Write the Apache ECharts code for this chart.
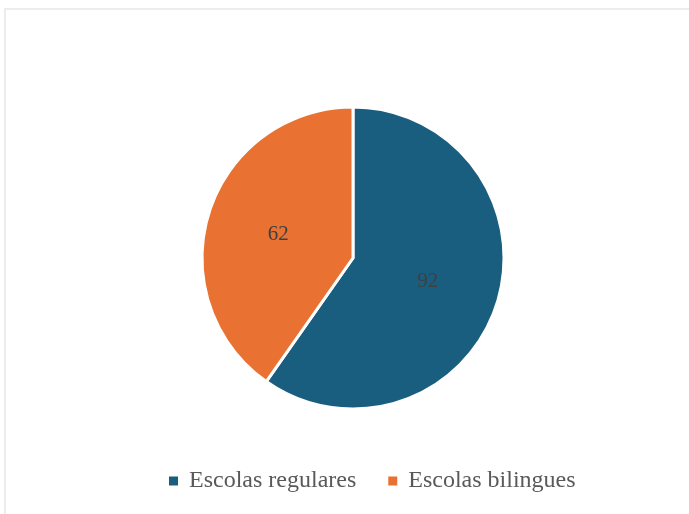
<!DOCTYPE html>
<html>
<head>
<meta charset="utf-8">
<script src="https://cdn.jsdelivr.net/npm/echarts@6/dist/echarts.min.js"></script>
<style>
  html, body { margin: 0; padding: 0; background: #ffffff; }
  #chart { width: 689px; height: 514px; }
</style>
</head>
<body>
<div id="chart"></div>
<script>
// School types and their counts
const categories = ['Escolas regulares', 'Escolas bilingues'];
const values = [92, 62];
const colors = ['#195e7f', '#e97132'];

const chart = echarts.init(document.getElementById('chart'), null, { renderer: 'canvas' });

const data = categories.map((name, i) => ({
  name: name,
  value: values[i],
  itemStyle: { color: colors[i] }
}));

chart.setOption({
  animation: false,
  backgroundColor: '#ffffff',
  graphic: [{
    type: 'rect',
    shape: { x: 5, y: 9, width: 700, height: 520 },
    style: { fill: 'none', stroke: '#ececec', lineWidth: 2 },
    silent: true
  }],
  legend: {
    data: categories,
    left: 162,
    top: 464,
    padding: 5,
    icon: 'rect',
    itemWidth: 11,
    itemHeight: 11,
    itemGap: 30,
    textStyle: {
      fontFamily: '"Liberation Serif", serif',
      fontSize: 24,
      color: '#595959',
      padding: [0, 0, 0, 5]
    }
  },
  series: [{
    type: 'pie',
    center: [353, 258],
    radius: 151,
    startAngle: 90,
    clockwise: true,
    data: data,
    itemStyle: { borderColor: '#ffffff', borderWidth: 3 },
    label: {
      show: true,
      position: 'inside',
      formatter: '{c}',
      fontFamily: '"Liberation Serif", serif',
      fontSize: 21,
      color: '#404040'
    },
    labelLine: { show: false },
    emphasis: { disabled: true }
  }]
});
</script>
</body>
</html>
